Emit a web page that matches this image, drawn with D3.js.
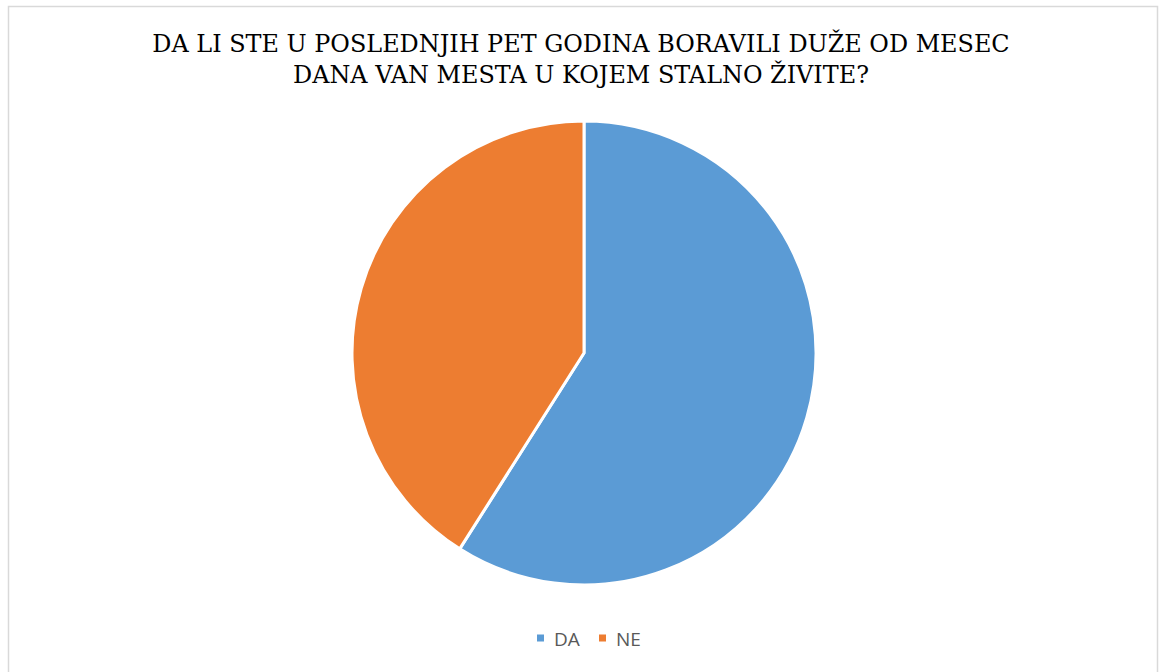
<!DOCTYPE html>
<html><head><meta charset="utf-8">
<script src="https://cdn.jsdelivr.net/npm/d3@7"></script>
<style>body{margin:0;background:#fff;}svg{display:block;}</style>
</head><body>
<script>
const categories = ["DA", "NE"];
const values = [59, 41];
const colors = ["#5B9BD5", "#ED7D31"];
const titleLines = ["DA LI STE U POSLEDNJIH PET GODINA BORAVILI DUŽE OD MESEC", "DANA VAN MESTA U KOJEM STALNO ŽIVITE?"];

const W = 1160, H = 672;
const svg = d3.select("body").append("svg").attr("width", W).attr("height", H);
svg.append("rect").attr("x", 8.5).attr("y", 6.5).attr("width", 1149).attr("height", 680)
  .attr("fill", "#fff").attr("stroke", "#d9d9d9").attr("stroke-width", 1.5);

const title = svg.append("g").selectAll("text").data(titleLines).join("text")
  .attr("x", 581).attr("y", (d, i) => 52 + i * 31)
  .attr("text-anchor", "middle")
  .attr("font-family", "'DejaVu Serif', 'Liberation Serif', serif")
  .attr("font-size", 20).attr("fill", "#000").text(d => d);
// fit first line to reference width
const w0 = title.nodes()[0].getComputedTextLength();
const fs = 20 * 858 / w0;
title.attr("font-size", fs);

const data = categories.map((c, i) => ({ c, v: values[i] }));
const pie = d3.pie().value(d => d.v).sort(null);
const arc = d3.arc().innerRadius(0).outerRadius(232);
svg.append("g").attr("transform", "translate(584,353)")
  .selectAll("path").data(pie(data)).join("path")
  .attr("d", arc).attr("fill", (d, i) => colors[i])
  .attr("stroke", "#fff").attr("stroke-width", 3).attr("stroke-linejoin", "round");

const leg = svg.append("g");
const lx = [537, 599];
categories.forEach((c, i) => {
  leg.append("rect").attr("x", lx[i]).attr("y", 634.5).attr("width", 7).attr("height", 7).attr("fill", colors[i]);
  leg.append("text").attr("x", lx[i] + 17).attr("y", 646).attr("font-family", "'Open Sans', 'Liberation Sans', sans-serif")
    .attr("font-size", 19).attr("fill", "#595959").text(c);
});
</script>
</body></html>
